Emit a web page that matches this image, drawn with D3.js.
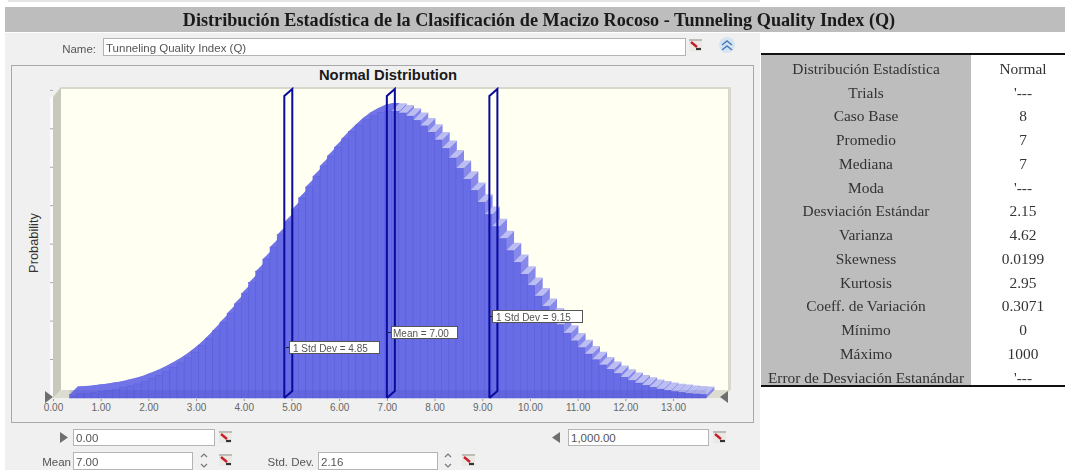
<!DOCTYPE html>
<html>
<head>
<meta charset="utf-8">
<script src="https://cdn.jsdelivr.net/npm/d3@7"></script>
<style>
html, body { margin: 0; padding: 0; background: #fff; }
svg { display: block; filter: blur(0.6px); }
</style>
</head>
<body>
<svg id="chart" width="1065" height="470"></svg>
<script>
const title = "Distribución Estadística de la Clasificación de Macizo Rocoso - Tunneling Quality Index (Q)";
const binStart = [0.35, 0.50, 0.65, 0.80, 0.95, 1.10, 1.25, 1.40, 1.55, 1.70,
	1.85, 2.00, 2.15, 2.30, 2.45, 2.60, 2.75, 2.90, 3.05, 3.20,
	3.35, 3.50, 3.65, 3.80, 3.95, 4.10, 4.25, 4.40, 4.55, 4.70,
	4.85, 5.00, 5.15, 5.30, 5.45, 5.60, 5.75, 5.90, 6.05, 6.20,
	6.35, 6.50, 6.65, 6.80, 6.95, 7.10, 7.25, 7.40, 7.55, 7.70,
	7.85, 8.00, 8.15, 8.30, 8.45, 8.60, 8.75, 8.90, 9.05, 9.20,
	9.35, 9.50, 9.65, 9.80, 9.95, 10.10, 10.25, 10.40, 10.55, 10.70,
	10.85, 11.00, 11.15, 11.30, 11.45, 11.60, 11.75, 11.90, 12.05, 12.20,
	12.35, 12.50, 12.65, 12.80, 12.95, 13.10, 13.25, 13.40, 13.55];
const probability = [1.2, 1.4, 1.6, 1.9, 2.2, 2.6, 3.0, 3.6, 4.2, 4.9,
	5.8, 6.8, 7.9, 9.2, 10.6, 12.2, 14.0, 16.0, 18.3, 20.8,
	23.5, 26.4, 29.5, 32.8, 36.4, 40.2, 44.2, 48.4, 52.6, 56.9,
	61.3, 65.6, 69.7, 73.6, 77.3, 80.9, 84.3, 87.4, 90.3, 92.8,
	95.0, 96.9, 98.3, 99.4, 100, 99.9, 99.3, 98.2, 96.7, 94.8,
	92.6, 89.9, 86.9, 83.6, 80.0, 76.2, 72.3, 68.2, 63.9, 59.7,
	55.5, 51.3, 47.2, 43.1, 39.2, 35.5, 31.9, 28.6, 25.5, 22.6,
	19.9, 17.5, 15.3, 13.3, 11.5, 9.9, 8.5, 7.2, 6.1, 5.2,
	4.4, 3.7, 3.1, 2.6, 2.2, 1.9, 1.6, 1.4, 1.2];
const xTicks = [0, 1, 2, 3, 4, 5, 6, 7, 8, 9, 10, 11, 12, 13];
const yTicks = [13.4, 26.8, 40.2, 53.6, 67, 80.4, 93.8, 107.2];
const markers = [4.85, 7.00, 9.15];
const markerLabels = ["1 Std Dev = 4.85", "Mean = 7.00", "1 Std Dev = 9.15"];
const statNames = ["Distribución Estadística", "Trials", "Caso Base", "Promedio", "Mediana", "Moda",
	"Desviación Estándar", "Varianza", "Skewness", "Kurtosis", "Coeff. de Variación",
	"Mínimo", "Máximo", "Error de Desviación Estanándar"];
const statValues = ["Normal", "'---", "8", "7", "7", "'---", "2.15", "4.62", "0.0199", "2.95", "0.3071",
	"0", "1000", "'---"];

const sans = "'Liberation Sans', Arial, sans-serif";
const serif = "'Liberation Serif', 'Times New Roman', serif";
const depth = 8;

const svg = d3.select("#chart");
const xScale = d3.scaleLinear().domain([0, 13]).range([53, 673]);
const yScale = d3.scaleLinear().domain([0, 100]).range([398, 111]);
const barWidth = xScale(0.15) - xScale(0);

function appendText(parent, x, y, text, size, fill, anchor, family, weight) {
	return parent.append("text")
	.attr("x", x)
	.attr("y", y)
	.attr("dominant-baseline", "central")
	.style("text-anchor", anchor || "start")
	.style("font-family", family || sans)
	.style("font-weight", weight || "normal")
	.style("font-size", size + "px")
	.style("fill", fill)
	.text(text);
}

function appendInput(x, y, width, height, text) {
	svg.append("rect")
	.attr("x", x + 0.5)
	.attr("y", y + 0.5)
	.attr("width", width)
	.attr("height", height)
	.style("fill", "#fff")
	.style("stroke", "#b4b4b4");

	appendText(svg, x + 3, y + height / 2 + 1, text, 11.5, "#555");
}

function appendLinkIcon(x, y) {
	const icon = svg.append("g").attr("transform", "translate(" + x + "," + y + ")");
	icon.append("rect").attr("width", 13).attr("height", 12).style("fill", "#ece9e4");
	icon.append("rect").attr("width", 13).attr("height", 2).style("fill", "#bdbdb5");
	icon.append("path").attr("d", "M2 3 L8 8").style("stroke", "#c8202a").style("stroke-width", 2.4);
	icon.append("path").attr("d", "M7 10 H12").style("stroke", "#333").style("stroke-width", 2.2);
}

function appendSpinner(x, y) {
	svg.append("path")
	.attr("d", "M" + (x - 3) + " " + (y + 4) + " L" + x + " " + (y + 1) + " L" + (x + 3) + " " + (y + 4)
		+ " M" + (x - 3) + " " + (y + 11) + " L" + x + " " + (y + 14) + " L" + (x + 3) + " " + (y + 11))
	.style("fill", "none")
	.style("stroke", "#777")
	.style("stroke-width", 1.2);
}

// page background and title band
svg.append("rect").attr("x", 8).attr("y", 0).attr("width", 752).attr("height", 2).style("fill", "#e4e4e4");
svg.append("rect").attr("x", 5).attr("y", 33).attr("width", 755).attr("height", 437).style("fill", "#f0f0f0");
svg.append("rect").attr("x", 5).attr("y", 7).attr("width", 1060).attr("height", 25).style("fill", "#bdbdbd");
appendText(svg, 539, 19.5, title, 18.2, "#1a1a1a", "middle", serif, "bold");

// name row
appendText(svg, 96, 48.5, "Name:", 11.5, "#555", "end");
appendInput(103, 38, 582, 17, "Tunneling Quality Index (Q)");
appendLinkIcon(689, 39);
svg.append("circle").attr("cx", 727).attr("cy", 45).attr("r", 8).style("fill", "#d5e4f3");
svg.append("path")
.attr("d", "M722 45 L727 41 L732 45 M722 50 L727 46 L732 50")
.style("fill", "none")
.style("stroke", "#4a7db5")
.style("stroke-width", 1.6);

// chart frame
svg.append("rect")
.attr("x", 11.5)
.attr("y", 65.5)
.attr("width", 742)
.attr("height", 357)
.style("fill", "#f0f0f0")
.style("stroke", "#a8a8a8");
appendText(svg, 388, 75, "Normal Distribution", 14.8, "#1a1a1a", "middle", sans, "bold");
appendText(svg, 0, 0, "Probability", 12.8, "#333", "middle")
.attr("transform", "translate(33,243) rotate(-90)");

// 3d walls
svg.append("rect").attr("x", 61).attr("y", 87).attr("width", 670).attr("height", 303).style("fill", "#fffff2");
svg.append("path").attr("d", "M61 87 H731 V390 H728 V89 H61 Z").style("fill", "#d8d8cc");
svg.append("path").attr("d", "M53 97 L61 87 V390 L53 398 Z").style("fill", "#c9c9bb");
svg.append("rect").attr("x", 50).attr("y", 97).attr("width", 3).attr("height", 301).style("fill", "#fbfbfb");
svg.append("path").attr("d", "M53 398 L61 390 H731 L722 398 Z").style("fill", "#dcdcd0");

svg.append("g")
.selectAll("line")
.data(yTicks)
.join("line")
.attr("x1", 50)
.attr("x2", 53)
.attr("y1", d => yScale(d))
.attr("y2", d => yScale(d))
.style("stroke", "#aaa");

// bars
const barData = binStart.map((d, i) => ({ x: d, value: probability[i] }));
const peakIndex = probability.indexOf(d3.max(probability));

// fills the notches between bar tops on the rising side, the reference has a smooth edge there
const risingEdge = d3.area()
.x(d => xScale(d.x) + depth)
.y0(yScale(0) - depth)
.y1(d => yScale(d.value) - depth);
svg.append("path")
.attr("d", risingEdge(barData.slice(0, peakIndex + 1)))
.style("fill", "#7174e6");

const bars = svg.append("g")
.selectAll("g")
.data(barData)
.join("g");

bars.append("path")
.attr("d", d => {
	const x1 = xScale(d.x) + barWidth;
	const top = yScale(d.value);
	return "M" + x1 + " " + top + " L" + (x1 + depth) + " " + (top - depth)
		+ " V" + (yScale(0) - depth) + " L" + x1 + " " + yScale(0) + " Z";
})
.style("fill", (d, i) => i <= peakIndex ? "#7174e6" : "#8689ea");

bars.append("path")
.attr("d", d => {
	const x0 = xScale(d.x);
	const top = yScale(d.value);
	return "M" + x0 + " " + top + " L" + (x0 + depth) + " " + (top - depth)
		+ " H" + (x0 + barWidth + depth) + " L" + (x0 + barWidth) + " " + top + " Z";
})
.style("fill", (d, i) => i <= peakIndex ? "#7174e6" : "#bcbef2");

bars.append("rect")
.attr("x", d => xScale(d.x))
.attr("y", d => yScale(d.value))
.attr("width", barWidth)
.attr("height", d => yScale(0) - yScale(d.value))
.style("fill", "#686ce5")
.style("stroke", "#5a5edb")
.style("stroke-width", 0.5);

svg.append("rect")
.attr("x", xScale(binStart[0]))
.attr("y", 390)
.attr("width", xScale(13.7) - xScale(binStart[0]))
.attr("height", 8)
.style("fill", "#3c3fb8")
.style("opacity", 0.14);

// x axis
const xAxis = svg.append("g")
.attr("transform", "translate(0,399)")
.call(d3.axisBottom(xScale).tickValues(xTicks).tickFormat(d3.format(".2f")).tickSize(2).tickPadding(3));
xAxis.select(".domain").remove();
xAxis.selectAll("line").style("stroke", "#999");
xAxis.selectAll("text")
.style("font-family", sans)
.style("font-size", "10px")
.style("fill", "#666");

svg.append("path").attr("d", "M45 391 L53 397 L45 403 Z").style("fill", "#6e6e6e");
svg.append("path").attr("d", "M728 391 L720 397 L728 403 Z").style("fill", "#6e6e6e");

// markers
const markerBoxes = [
	{ x: 289, y: 341, width: 90, pad: 4 },
	{ x: 391, y: 326, width: 66, pad: 2 },
	{ x: 492, y: 310, width: 90, pad: 4 }
];
markers.forEach((d, i) => {
	const x0 = xScale(d);
	svg.append("path")
	.attr("d", "M" + x0 + " 398 V96 L" + (x0 + depth) + " 89 V391 L" + x0 + " 398")
	.style("fill", "none")
	.style("stroke", "#0a0a9c")
	.style("stroke-width", 2);

	const box = markerBoxes[i];
	svg.append("line")
	.attr("x1", box.x - 3)
	.attr("x2", box.x)
	.attr("y1", box.y + 6.5)
	.attr("y2", box.y + 6.5)
	.style("stroke", "#222");
	svg.append("rect")
	.attr("x", box.x + 0.5)
	.attr("y", box.y + 0.5)
	.attr("width", box.width)
	.attr("height", 12)
	.style("fill", "#fff")
	.style("stroke", "#555");
	appendText(svg, box.x + box.pad, box.y + 7, markerLabels[i], 10, "#555");
});

// bottom fields
svg.append("path").attr("d", "M60 432 L68 437.5 L60 443 Z").style("fill", "#6e6e6e");
appendInput(73, 429, 141, 16, "0.00");
appendLinkIcon(219, 431);
svg.append("path").attr("d", "M560 432 L552 437.5 L560 443 Z").style("fill", "#6e6e6e");
appendInput(568, 429, 140, 16, "1,000.00");
appendLinkIcon(713, 431);

appendText(svg, 71, 461.5, "Mean", 11.5, "#555", "end");
appendInput(73, 452, 119, 17, "7.00");
appendSpinner(204, 453);
appendLinkIcon(219, 454);
appendText(svg, 314, 461.5, "Std. Dev.", 11.5, "#555", "end");
appendInput(318, 452, 119, 17, "2.16");
appendSpinner(448, 453);
appendLinkIcon(462, 454);

// statistics table
const rowY = d3.scalePoint().domain(d3.range(statNames.length)).range([68.5, 377]);
svg.append("rect").attr("x", 761).attr("y", 54).attr("width", 210).attr("height", 331).style("fill", "#bdbdbd");
svg.append("rect").attr("x", 761).attr("y", 53).attr("width", 304).attr("height", 2).style("fill", "#111");
svg.append("rect").attr("x", 761).attr("y", 385).attr("width", 304).attr("height", 2).style("fill", "#111");

svg.append("g")
.selectAll("text")
.data(statNames)
.join("text")
.attr("x", 866)
.attr("y", (d, i) => rowY(i))
.attr("dominant-baseline", "central")
.style("text-anchor", "middle")
.style("font-family", serif)
.style("font-size", "15.4px")
.style("fill", "#333")
.text(d => d);

svg.append("g")
.selectAll("text")
.data(statValues)
.join("text")
.attr("x", 1023)
.attr("y", (d, i) => rowY(i))
.attr("dominant-baseline", "central")
.style("text-anchor", "middle")
.style("font-family", serif)
.style("font-size", "15.4px")
.style("fill", "#333")
.text(d => d);
</script>
</body>
</html>
